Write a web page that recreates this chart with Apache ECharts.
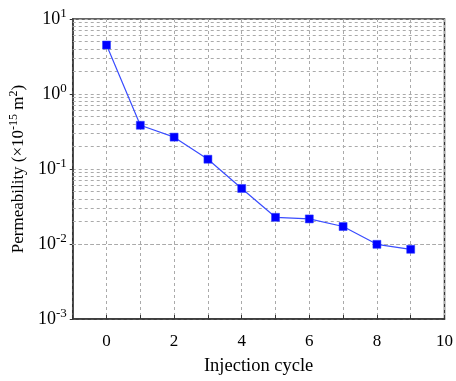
<!DOCTYPE html>
<html>
<head>
<meta charset="utf-8">
<script src="https://cdn.jsdelivr.net/npm/echarts@6/dist/echarts.min.js"></script>
<style>html,body{margin:0;padding:0;background:#fff;}#c{width:456px;height:381px;}</style>
</head>
<body>
<div id="c"></div>
<script>
const cycles = [0, 1, 2, 3, 4, 5, 6, 7, 8, 9];
const permeability = [4.5, 0.383, 0.266, 0.135, 0.055, 0.0227, 0.0216, 0.0171, 0.0099, 0.0085];
const xTickLabels = ['0', '2', '4', '6', '8', '10'];
const yDecades = [0.001, 0.01, 0.1, 1, 10];
const minorGridValues = [];
[0.001, 0.01, 0.1, 1].forEach(function (d) {
  [2, 3, 4, 5, 6, 7, 8, 9].forEach(function (m) { minorGridValues.push(+(d * m).toPrecision(3)); });
});

const FONT = '"Liberation Serif", "Times New Roman", serif';
const chart = echarts.init(document.getElementById('c'), null, { renderer: 'canvas' });

chart.setOption({
  animation: false,
  backgroundColor: '#fff',
  grid: { left: 72, right: 7, top: 19, bottom: 59, show: true, borderColor: '#333', borderWidth: 1.5, backgroundColor: 'transparent' },
  xAxis: {
    type: 'value', min: -1, max: 10, interval: 1,
    name: 'Injection cycle', nameLocation: 'middle', nameGap: 38,
    nameTextStyle: { fontFamily: FONT, fontSize: 18.5, color: '#000' },
    axisLine: { show: true, onZero: false, lineStyle: { color: '#333', width: 1.5 } },
    axisTick: { show: true, inside: true, length: 4, lineStyle: { color: '#333' } },
    axisLabel: {
      fontFamily: FONT, fontSize: 17, color: '#000', margin: 14,
      formatter: function (v) { const s = String(v); return xTickLabels.indexOf(s) >= 0 ? s : ''; }
    },
    splitLine: { show: true, lineStyle: { color: '#aaa', type: [3, 3], width: 1 } }
  },
  yAxis: {
    type: 'log', logBase: 10, min: 0.001, max: 10,
    name: 'Permeability (×10{sup|-15} m{sup|2})', nameLocation: 'middle', nameGap: 41, nameRotate: 90,
    nameTextStyle: {
      fontFamily: FONT, fontSize: 17, color: '#000',
      rich: { sup: { fontFamily: FONT, fontSize: 12, color: '#000', padding: [0, 0, 9, 0] } }
    },
    axisLine: { show: true, onZero: false, lineStyle: { color: '#333', width: 1.5 } },
    axisTick: { show: true, inside: false, length: 3, lineStyle: { color: '#333' } },
    axisLabel: {
      fontFamily: FONT, fontSize: 18, color: '#000', margin: 6,
      formatter: function (v) {
        const e = Math.round(Math.log10(v));
        return '{b|10}{s|' + e + '}';
      },
      rich: {
        b: { fontFamily: FONT, fontSize: 18, color: '#000' },
        s: { fontFamily: FONT, fontSize: 13, color: '#000', padding: [0, 0, 10, 0] }
      }
    },
    splitLine: { show: true, lineStyle: { color: '#aaa', type: [3, 3], width: 1 } }
  },
  series: [{
    type: 'line',
    data: cycles.map(function (c, i) { return [c, permeability[i]]; }),
    symbol: 'rect', symbolSize: 8,
    itemStyle: { color: '#0000ff', borderColor: '#2a3cff', borderWidth: 0.5 },
    lineStyle: { color: '#3a4dff', width: 1.2 },
    z: 5,
    markLine: {
      silent: true, symbol: 'none', label: { show: false }, animation: false,
      lineStyle: { color: '#aaa', type: [3, 3], width: 1 },
      data: minorGridValues.map(function (v) { return { yAxis: v }; }),
      z: 1
    }
  }]
});
</script>
</body>
</html>
